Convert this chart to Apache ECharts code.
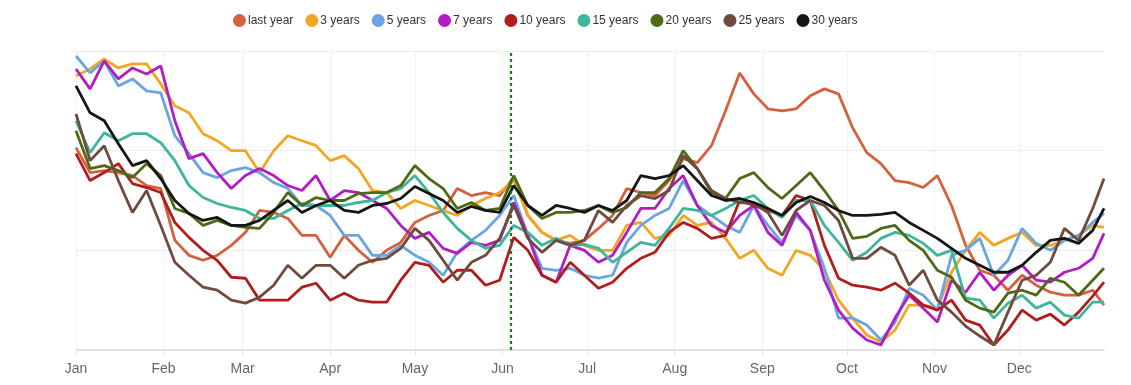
<!DOCTYPE html>
<html>
<head>
<meta charset="utf-8">
<script src="https://cdn.jsdelivr.net/npm/echarts@6/dist/echarts.min.js"></script>
<style>
html,body{margin:0;padding:0;background:#fff;}
#chart{width:1131px;height:385px;}
</style>
</head>
<body>
<div id="chart"></div>
<script>
// Month tick labels
const monthLabels = ['Jan','Feb','Mar','Apr','May','Jun','Jul','Aug','Sep','Oct','Nov','Dec'];
// Day-of-year at which values were read (every 5 days)
const sampleDays = [0,5,10,15,20,25,30,35,40,45,50,55,60,65,70,75,80,85,90,95,100,105,110,115,120,125,130,135,140,145,150,155,160,165,170,175,180,185,190,195,200,205,210,215,220,225,230,235,240,245,250,255,260,265,270,275,280,285,290,295,300,305,310,315,320,325,330,335,340,345,350,355,360,364];
// Marked day (vertical dotted line)
const markDay = 154;

const seriesNames = ['last year','3 years','5 years','7 years','10 years','15 years','20 years','25 years','30 years'];

const lastYear = [203,178,180,178,175,165,162,110,95,90, 95,105,118,140,138,132,115,115,93,115, 100,88,100,108,128,135,140,162,155,158, 155,173,135,118,110,107,110,122,135,162, 158,155,170,192,188,205,240,278,257,242, 240,242,255,262,257,223,198,187,170,168, 163,175,145,105,80,75,60,75,65,58, 55,55,60,45];
const years3 = [275,282,292,283,287,287,267,245,238,217, 210,200,200,178,200,215,210,205,190,195, 182,160,158,142,150,145,140,135,145,152, 158,170,135,118,110,115,105,100,100,125, 128,112,115,135,125,128,112,92,100,82, 75,100,95,80,50,32,15,8,20,45, 45,42,78,100,118,105,112,118,105,105, 110,115,125,123];
const years5 = [295,278,290,265,272,260,258,215,197,178, 173,180,183,178,168,162,145,145,135,115, 115,95,95,105,95,88,75,98,110,120, 135,155,115,82,80,82,75,72,75,108, 125,135,142,170,145,135,125,118,145,125, 108,135,120,82,32,32,25,10,28,62, 55,40,95,100,112,75,90,122,107,100, 110,115,128,137];
const years7 = [282,262,290,272,283,277,285,230,192,197, 178,162,175,182,175,165,160,175,150,160, 158,150,142,125,112,118,102,97,108,105, 110,148,115,75,68,105,100,88,95,118, 142,142,162,175,145,125,118,135,145,118, 105,138,120,70,40,22,10,5,32,55, 42,28,70,58,78,60,75,85,70,68, 78,82,92,117];
const years10 = [197,170,178,187,167,163,158,128,113,100, 90,73,72,50,50,50,63,67,50,57, 50,48,48,70,88,85,68,80,80,65, 70,113,100,75,68,88,75,62,68,82, 92,98,118,128,122,112,115,150,145,140, 135,155,150,105,72,65,63,60,67,57, 45,40,50,30,25,5,20,40,30,36, 25,38,54,68];
const years15 = [230,198,218,210,217,217,208,190,165,153, 147,143,140,132,132,140,147,145,145,145, 148,150,158,162,175,158,138,122,110,102, 105,125,118,105,112,105,106,102,88,98, 108,105,122,142,140,135,142,150,155,142, 133,150,150,125,108,90,98,112,118,115, 107,95,100,52,50,32,47,55,42,48, 35,32,48,48];
const years20 = [220,182,185,180,173,187,175,142,137,125, 130,125,123,122,138,158,145,153,150,150, 157,158,158,165,185,172,162,142,148,140, 142,175,145,132,138,138,140,145,138,143, 158,158,172,200,182,158,152,172,178,163, 152,165,178,160,140,112,114,122,125,110, 100,80,73,50,42,38,57,60,55,72, 68,55,70,82];
const years25 = [237,190,205,170,138,160,125,88,75,63, 60,50,47,53,65,85,72,85,85,72, 85,90,92,102,122,110,90,70,88,95, 112,145,112,98,110,105,110,140,128,145, 155,152,160,195,182,160,152,148,147,138, 115,140,150,145,130,92,92,103,95,65, 80,50,38,24,14,5,38,70,75,88, 122,110,142,172];
const years30 = [265,238,230,207,185,190,172,150,137,130, 133,125,125,130,140,150,138,145,150,140, 138,145,147,152,164,157,150,138,144,140, 138,165,145,135,145,142,138,145,140,150, 175,172,175,185,170,155,150,152,148,142, 135,148,154,148,140,135,135,136,138,128, 120,112,102,92,85,78,78,85,98,110, 112,107,120,142];

const seriesValues = [lastYear, years3, years5, years7, years10, years15, years20, years25, years30];
const seriesColors = ['#d5603f','#f2a623','#6aa5e2','#b21cc3','#b01d1d','#3fb59b','#4d6b17','#6f4a3d','#151515'];

// 365 daily categories (non-leap year)
const days = [];
for (let i = 0; i < 365; i++) {
  const d = new Date(Date.UTC(2023, 0, 1 + i));
  days.push({m: d.getUTCMonth(), d: d.getUTCDate()});
}
const cats = days.map((o, i) => String(i));
const isMonthStart = (idx) => days[idx] && days[idx].d === 1;

function buildData(vals) {
  const arr = new Array(365).fill(null);
  sampleDays.forEach((day, k) => { arr[day] = vals[k]; });
  return arr;
}

const series = seriesNames.map((name, i) => {
  const s = {
    name: name,
    type: 'line',
    data: buildData(seriesValues[i]),
    connectNulls: true,
    showSymbol: false,
    symbol: 'circle',
    smooth: false,
    color: seriesColors[i],
    lineStyle: {width: 2.8, color: seriesColors[i]},
    emphasis: {disabled: true}
  };
  if (i === 0) {
    s.markLine = {
      silent: true,
      symbol: ['none','none'],
      label: {show: false},
      lineStyle: {color: '#1f7a1f', type: [3,3], width: 2.2},
      data: [{xAxis: String(markDay)}]
    };
  }
  return s;
});

const chart = echarts.init(document.getElementById('chart'), null, {renderer: 'canvas'});
chart.setOption({
  animation: false,
  backgroundColor: '#ffffff',
  legend: {
    top: 9,
    left: 228,
    icon: 'circle',
    itemWidth: 13,
    itemHeight: 13,
    itemGap: 12,
    textStyle: {fontSize: 12, color: '#333', fontFamily: '"Liberation Sans", Arial, sans-serif', padding: [0,0,0,-3]},
    data: seriesNames
  },
  grid: {left: 76, right: 27, top: 51, bottom: 35, containLabel: false},
  xAxis: {
    type: 'category',
    data: cats,
    boundaryGap: false,
    axisLine: {show: true, lineStyle: {color: '#e3e3e3', width: 2}},
    axisTick: {show: true, interval: (idx) => isMonthStart(idx), length: 5, lineStyle: {color: '#e3e3e3'}},
    axisLabel: {
      interval: (idx) => isMonthStart(idx),
      formatter: (v) => monthLabels[days[+v].m],
      color: '#666',
      fontSize: 14,
      margin: 12,
      fontFamily: '"Liberation Sans", Arial, sans-serif'
    },
    splitLine: {show: true, interval: (idx) => isMonthStart(idx), lineStyle: {color: '#e6e6e6', type: 'dotted', width: 1}}
  },
  yAxis: {
    type: 'value',
    min: 0,
    max: 300,
    interval: 100,
    axisLine: {show: false},
    axisTick: {show: false},
    axisLabel: {show: false},
    splitLine: {show: true, lineStyle: {color: '#dcdcdc', type: 'dotted', width: 1}}
  },
  series: series
});
</script>
</body>
</html>
